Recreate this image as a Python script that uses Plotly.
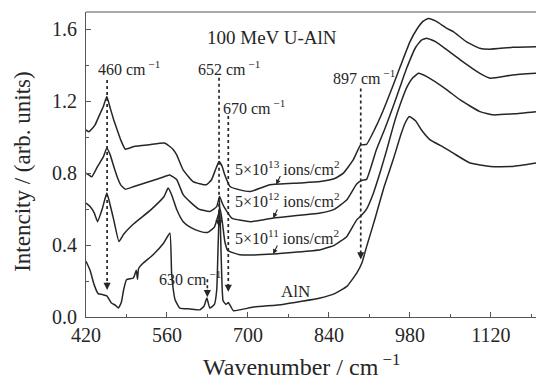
import plotly.graph_objects as go

# ---- data ----
wn_13 = [420, 425, 430, 436, 442, 450, 456, 462, 468, 475, 480, 488, 503, 530, 555, 565, 571, 577,
         588, 605, 628, 637, 644, 650, 655, 660, 669, 686, 704, 738, 790, 825, 850, 865, 882, 895,
         905, 920, 934, 950, 963, 980, 992, 1003, 1012, 1025, 1044, 1055, 1078, 1101, 1118, 1158, 1198]
int_13 = [1.04, 1.03, 1.045, 1.07, 1.114, 1.17, 1.226, 1.16, 1.096, 1.03, 0.985, 0.933, 0.948, 0.958,
          0.967, 0.948, 0.93, 0.90, 0.818, 0.753, 0.735, 0.763, 0.82, 0.864, 0.84, 0.79, 0.726, 0.707,
          0.698, 0.735, 0.745, 0.753, 0.77, 0.80, 0.874, 0.957, 0.96, 1.05, 1.15, 1.28, 1.39, 1.53, 1.60,
          1.645, 1.66, 1.645, 1.605, 1.587, 1.53, 1.494, 1.489, 1.50, 1.503]

wn_12 = [420, 425, 430, 440, 450, 456, 462, 468, 475, 480, 488, 503, 530, 555, 565, 570, 577, 588,
         600, 615, 634, 646, 651, 656, 660, 672, 704, 744, 825, 850, 871, 888, 897, 905, 922, 937,
         951, 963, 974, 990, 1000, 1009, 1025, 1044, 1067, 1101, 1119, 1158, 1198]
int_12 = [0.80, 0.79, 0.78, 0.837, 0.89, 0.94, 0.90, 0.837, 0.77, 0.735, 0.711, 0.726, 0.753, 0.78,
          0.79, 0.78, 0.763, 0.68, 0.64, 0.60, 0.587, 0.614, 0.67, 0.63, 0.605, 0.55, 0.53, 0.55, 0.578,
          0.60, 0.652, 0.74, 0.76, 0.765, 0.93, 1.05, 1.17, 1.28, 1.38, 1.50, 1.54, 1.55, 1.53, 1.485,
          1.43, 1.355, 1.328, 1.346, 1.355]

wn_11 = [420, 427, 434, 440, 448, 456, 462, 468, 477, 485, 503, 532, 555, 562, 568, 577, 588, 600,
         617, 630, 642, 648, 652, 656, 660, 665, 686, 744, 825, 850, 871, 888, 897, 905, 917, 930,
         940, 952, 963, 975, 985, 995, 1010, 1044, 1067, 1101, 1124, 1160, 1198]
int_11 = [0.633, 0.614, 0.58, 0.53, 0.60, 0.689, 0.62, 0.54, 0.42, 0.46, 0.52, 0.596, 0.67, 0.717,
          0.68, 0.596, 0.53, 0.50, 0.476, 0.47, 0.50, 0.56, 0.60, 0.52, 0.42, 0.37, 0.346, 0.35, 0.374,
          0.40, 0.448, 0.54, 0.568, 0.60, 0.69, 0.82, 0.93, 1.07, 1.18, 1.28, 1.33, 1.355, 1.335, 1.263,
          1.207, 1.142, 1.124, 1.13, 1.142]

wn_aln = [420, 427, 434, 441, 448, 456, 464, 471, 476, 481, 485, 490, 502, 507, 509, 511, 519, 536,
          554, 565, 568, 571, 574, 582, 600, 617, 624, 629, 634, 642, 646, 648, 651, 654, 657, 662,
          666, 670, 675, 709, 760, 825, 850, 871, 888, 897, 905, 920, 935, 951, 965, 972, 979, 990,
          1000, 1015, 1035, 1055, 1084, 1119, 1158, 1198]
int_aln = [0.31, 0.26, 0.18, 0.13, 0.125, 0.118, 0.078, 0.065, 0.05, 0.08, 0.15, 0.207, 0.217, 0.26,
           0.21, 0.27, 0.30, 0.346, 0.41, 0.467, 0.244, 0.15, 0.096, 0.05, 0.045, 0.04, 0.06, 0.105,
           0.05, 0.07, 0.15, 0.35, 0.65, 0.30, 0.09, 0.07, 0.08, 0.06, 0.035, 0.055, 0.07, 0.106, 0.13,
           0.17, 0.244, 0.30, 0.39, 0.55, 0.72, 0.874, 1.02, 1.08, 1.115, 1.09, 1.04, 0.985, 0.95,
           0.911, 0.856, 0.837, 0.837, 0.856]

series = [("5×10¹³", wn_13, int_13), ("5×10¹²", wn_12, int_12),
          ("5×10¹¹", wn_11, int_11), ("AlN", wn_aln, int_aln)]

x_ticks = [420, 560, 700, 840, 980, 1120]
y_ticks = [0.0, 0.4, 0.8, 1.2, 1.6]

# dotted marker lines: position, top, arrow tip
peak_lines = [(456.5, 1.318, 0.15), (650, 1.33, 0.50), (666, 1.118, 0.14),
              (895, 1.27, 0.32), (629.8, 0.21, 0.11)]

INK = "#262626"
FONT = "Liberation Serif"

fig = go.Figure()
for name, xs, ys in series:
    fig.add_trace(go.Scatter(x=xs, y=ys, mode="lines", name=name,
                             line=dict(color=INK, width=1.5, shape="spline", smoothing=0.4),
                             showlegend=False, hoverinfo="skip"))

for xv, top, tip in peak_lines:
    fig.add_shape(type="line", x0=xv, x1=xv, y0=top, y1=tip + 0.03, xref="x", yref="y",
                  line=dict(color=INK, width=1.7, dash="dot"))
    fig.add_annotation(x=xv, y=tip, ax=0, ay=-9, text="", showarrow=True,
                       arrowhead=2, arrowsize=1.1, arrowwidth=1.3, arrowcolor=INK)

# top frame line
fig.add_shape(type="line", x0=0, x1=1, y0=1, y1=1, xref="paper", yref="paper",
              line=dict(color="#555", width=1.2))

txt = dict(font=dict(family=FONT, size=16, color=INK), showarrow=False)
fig.add_annotation(x=741.7, y=1.557, text="100 MeV U-AlN", xanchor="center", yanchor="middle",
                   font=dict(family=FONT, size=19, color=INK), showarrow=False)
fig.add_annotation(x=437.3, y=1.385, text="460 cm<sup> −1</sup>", xanchor="left", yanchor="middle", **txt)
fig.add_annotation(x=610.3, y=1.385, text="652 cm<sup> −1</sup>", xanchor="left", yanchor="middle", **txt)
fig.add_annotation(x=653.5, y=1.168, text="670 cm<sup> −1</sup>", xanchor="left", yanchor="middle", **txt)
fig.add_annotation(x=843.8, y=1.335, text="897 cm<sup> −1</sup>", xanchor="left", yanchor="middle", **txt)
fig.add_annotation(x=542.8, y=0.218, text="630 cm<sup> −1</sup>", xanchor="left", yanchor="middle", **txt)
fig.add_annotation(x=674.3, y=0.829, text="5×10<sup>13</sup> ions/cm<sup>2</sup>", xanchor="left", yanchor="middle", **txt)
fig.add_annotation(x=674.3, y=0.652, text="5×10<sup>12</sup> ions/cm<sup>2</sup>", xanchor="left", yanchor="middle", **txt)
fig.add_annotation(x=674.3, y=0.446, text="5×10<sup>11</sup> ions/cm<sup>2</sup>", xanchor="left", yanchor="middle", **txt)
fig.add_annotation(x=781.5, y=0.14, text="AlN", xanchor="center", yanchor="middle",
                   font=dict(family=FONT, size=17, color=INK), showarrow=False)

for xv, yv in [(748.7, 0.737), (743.5, 0.55), (743.5, 0.35)]:
    fig.add_annotation(x=xv, y=yv, ax=5, ay=-10, text="", showarrow=True,
                       arrowhead=2, arrowsize=0.9, arrowwidth=1.1, arrowcolor=INK)

fig.add_annotation(x=0.478, y=-0.156, xref="paper", yref="paper",
                   text="Wavenumber / cm<sup> −1</sup>", xanchor="center", yanchor="middle",
                   font=dict(family=FONT, size=24, color=INK), showarrow=False)
fig.add_annotation(x=-0.14, y=0.476, xref="paper", yref="paper", textangle=-90,
                   text="Intencity / (arb. units)", xanchor="center", yanchor="middle",
                   font=dict(family=FONT, size=23, color=INK), showarrow=False)

axis_common = dict(showline=True, linecolor="#555", linewidth=1.2, ticks="inside", ticklen=5,
                   tickcolor="#555", showgrid=False, zeroline=False,
                   tickfont=dict(family=FONT, size=20, color=INK))
fig.update_xaxes(range=[420, 1198], tickvals=x_ticks,
                 minor=dict(dtick=70, tick0=420, ticks="inside", ticklen=3, tickcolor="#555"),
                 **axis_common)
fig.update_yaxes(range=[0, 1.696], tickvals=y_ticks, tickformat=".1f", ticklabelstandoff=4,
                 minor=dict(dtick=0.2, tick0=0, ticks="inside", ticklen=3, tickcolor="#555"),
                 **axis_common)

fig.update_layout(width=536, height=380, margin=dict(l=86, r=0, t=12, b=63),
                  paper_bgcolor="white", plot_bgcolor="white")

fig.write_html("out.html")
